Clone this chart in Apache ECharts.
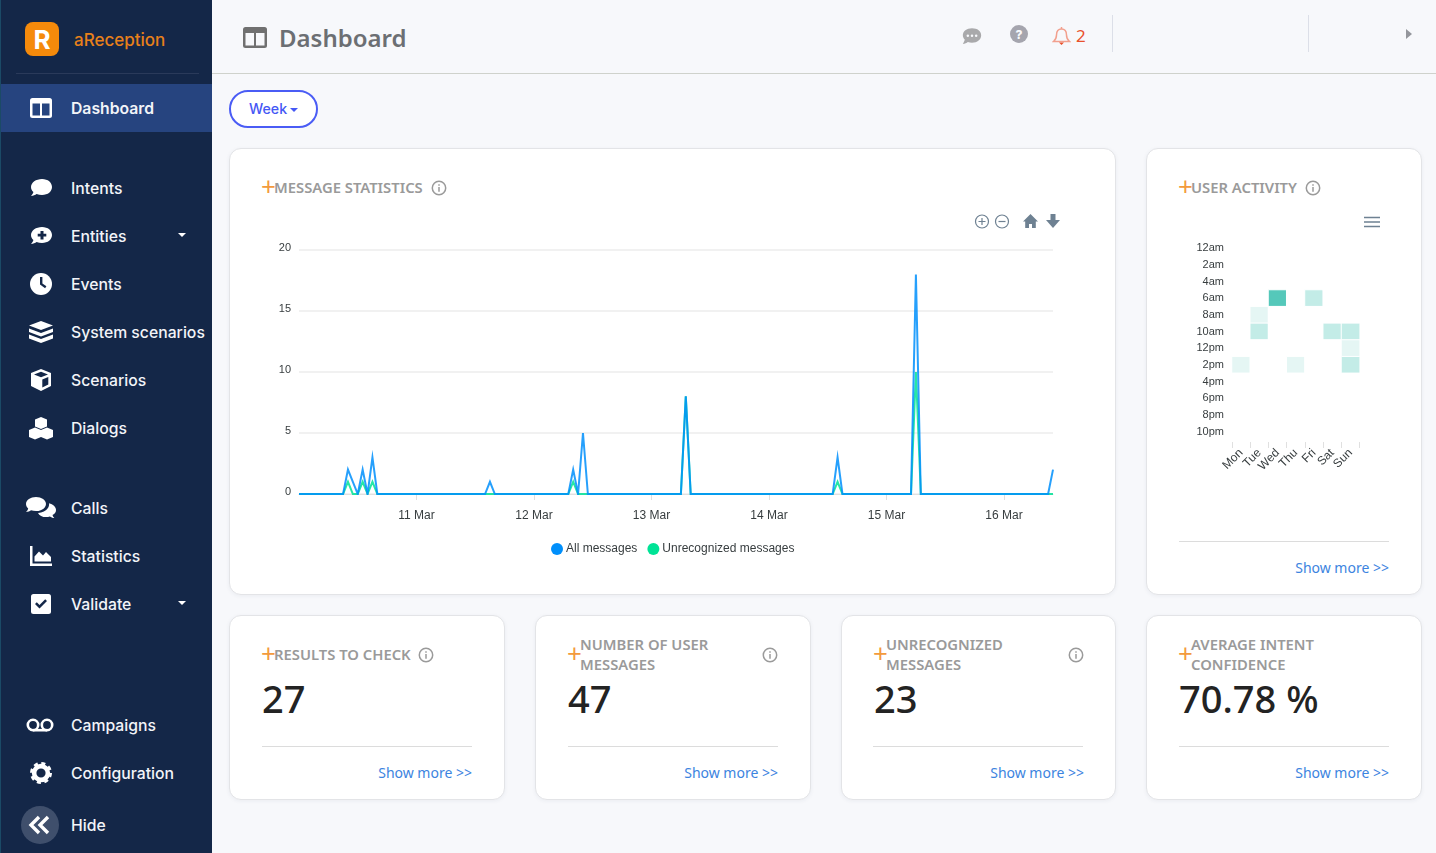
<!DOCTYPE html>
<html>
<head>
<meta charset="utf-8">
<title>Dashboard</title>
<script src="https://cdn.jsdelivr.net/npm/echarts@6/dist/echarts.min.js"></script>
<style>
  html, body { margin: 0; padding: 0; width: 1436px; height: 853px; overflow: hidden; background: #f7f8fb; font-family: "Noto Sans", sans-serif; }
  .abs { position: absolute; }
  #side { position: absolute; left: 0; top: 0; width: 212px; height: 853px; background: #142748; border-left: 1px solid #1b4a66; box-sizing: border-box; }
  .nav { position: absolute; left: 70px; margin-top: 1px; color: #f2f4f8; font: 500 15.75px/20px Inter, sans-serif; white-space: nowrap; }
  .ico { position: absolute; left: 28px; width: 24px; height: 24px; fill: #fff; }
  .caret { position: absolute; left: 177px; width: 0; height: 0; border-left: 4px solid transparent; border-right: 4px solid transparent; border-top: 4px solid #fff; }
  .card { position: absolute; background: #fff; border: 1px solid #e3e4e7; border-radius: 12px; box-sizing: border-box; box-shadow: 0 1px 4px rgba(40,50,80,.06); }
  .ttl { position: absolute; margin-top: -1px; color: #9a9a9a; font: 600 14.8px/20px "Noto Sans", sans-serif; white-space: nowrap; }
  .plus { position: absolute; color: #f39a3c; font: 400 26px/20px "Noto Sans", sans-serif; }
  .info { position: absolute; width: 16px; height: 16px; }
  .big { position: absolute; margin-top: -2px; color: #232323; font: 500 38px/44px "Noto Sans", sans-serif; white-space: nowrap; }
  .rule { position: absolute; height: 1px; width: 210px; background: #dcdcdc; }
  .more { position: absolute; color: #3c84e0; font: 400 14px/18px "Noto Sans", sans-serif; white-space: nowrap; }
</style>
</head>
<body>
<div id="side">
  <svg class="abs" style="left:24px;top:22px" width="34" height="34" viewBox="0 0 34 34"><rect width="34" height="34" rx="8" fill="#f58a0b"/><text x="17" y="26.500" text-anchor="middle" fill="#fff" font-family="Inter" font-weight="700" font-size="26">R</text></svg>
  <div class="abs" style="left:73px;top:29px;color:#e8801a;font:500 17px/22px Inter,sans-serif">aReception</div>
  <div class="abs" style="left:15px;top:73px;width:183px;height:1px;background:#2a3a5a"></div>
  <div class="abs" style="left:0;top:84px;width:211px;height:48px;background:#26447f"></div>

  <svg class="ico" style="top:96px" viewBox="0 0 24 24"><rect x="1" y="2" width="22" height="20" rx="2.500"/><rect x="3.500" y="7.500" width="7.500" height="12" fill="#26447f"/><rect x="13" y="7.500" width="7.500" height="12" fill="#26447f"/></svg>
  <div class="nav" style="top:98px;font-weight:600">Dashboard</div>

  <svg class="ico" style="top:176px" viewBox="0 0 24 24"><path d="M13 3C7 3 2 6.600 2 11c0 1.900.9 3.600 2.400 5-.4 1.700-1.600 3.200-2.400 4 2.200 0 4.200-.9 5.600-1.900 1.700.6 3.500.9 5.400.9 6 0 10-3.600 10-8s-4-8-10-8z"/></svg>
  <div class="nav" style="top:178px">Intents</div>

  <svg class="ico" style="top:224px" viewBox="0 0 24 24"><path d="M13 3C7 3 2 6.600 2 11c0 1.900.9 3.600 2.400 5-.4 1.700-1.600 3.200-2.400 4 2.200 0 4.200-.9 5.600-1.900 1.700.6 3.500.9 5.400.9 6 0 10-3.600 10-8s-4-8-10-8z"/><path d="M11.500 7h3v2.800h2.800v2.800h-2.800v2.800h-3v-2.800H8.700V9.800h2.800z" fill="#142748"/></svg>
  <div class="nav" style="top:226px">Entities</div>
  <div class="caret" style="top:233px"></div>

  <svg class="ico" style="top:272px" viewBox="0 0 24 24"><circle cx="12" cy="12" r="11"/><path d="M11 5h2.400v6.400l4 2.900-1.300 1.900-5.100-3.700z" fill="#142748"/></svg>
  <div class="nav" style="top:274px">Events</div>

  <svg class="ico" style="top:320px" viewBox="0 0 24 24"><path d="M12 1l12 4.500-12 4.500L0 5.500z"/><path d="M0 8.500l12 4.500 12-4.500v3.500l-12 4.500-12-4.500z"/><path d="M0 14.500l12 4.500 12-4.500v4l-12 4.500-12-4.500z"/></svg>
  <div class="nav" style="top:322px">System scenarios</div>

  <svg class="ico" style="top:368px" viewBox="0 0 24 24"><path d="M12 1l10 4v13l-10 5-10-5V5z"/><path d="M5 6.500l7 2.800 7-2.800-7-2.700zM13.300 11.500v8l6-3v-7.400z" fill="#142748"/></svg>
  <div class="nav" style="top:370px">Scenarios</div>

  <svg class="ico" style="top:416px" viewBox="0 0 24 24"><path d="M12 1l6 2.400v7l-6 2.600-6-2.600v-7z"/><path d="M6 11.500l6 2.400v7L6 23.500 0 20.900v-7z"/><path d="M18 11.500l6 2.400v7l-6 2.600-6-2.600v-7z"/></svg>
  <div class="nav" style="top:418px">Dialogs</div>

  <svg class="ico" style="top:496px;left:25px;width:30px" viewBox="0 0 30 24"><path d="M10 1C4.500 1 0 4.200 0 8c0 1.700.9 3.200 2.200 4.400-.3 1.300-1.200 2.600-2.200 3.600 2 0 3.700-.8 5-1.700 1.500.5 3.200.8 5 .8 5.500 0 10-3.200 10-7.100S15.500 1 10 1z"/><path d="M30 14c0-3.300-3-6-7-6.800.1.300.1.600.1 1 0 5-5.300 8.400-11.100 8.700 1.200 2.500 4.500 4.200 8 4.200 1.400 0 2.700-.2 3.900-.6 1.100.8 2.700 1.500 4.500 1.500-.8-.8-1.600-2-1.900-3.100C29.100 17.700 30 16 30 14z"/></svg>
  <div class="nav" style="top:498px">Calls</div>

  <svg class="ico" style="top:544px" viewBox="0 0 24 24"><path d="M1 2h2.500v17.500H23V22H1z"/><path d="M5.500 17.500v-5l4.500-5 4 4 3-3.500 5 5v4.500z"/></svg>
  <div class="nav" style="top:546px">Statistics</div>

  <svg class="ico" style="top:592px" viewBox="0 0 24 24"><rect x="2" y="2" width="20" height="20" rx="2.500"/><path d="M6 12l1.800-1.800 2.700 2.700 5.700-5.700L18 9l-7.500 7.500z" fill="#142748"/></svg>
  <div class="nav" style="top:594px">Validate</div>
  <div class="caret" style="top:601px"></div>

  <svg class="ico" style="top:713px;left:25px;width:28px" viewBox="0 0 28 24"><circle cx="7" cy="12" r="5.200" fill="none" stroke="#fff" stroke-width="2.600"/><circle cx="21" cy="12" r="5.200" fill="none" stroke="#fff" stroke-width="2.600"/><rect x="7" y="15.900" width="14" height="2.600"/></svg>
  <div class="nav" style="top:715px">Campaigns</div>

  <svg class="ico" style="top:762px;left:29px;width:22px;height:22px" viewBox="0 0 24 24"><circle cx="12" cy="12" r="7.500" fill="none" stroke="#fff" stroke-width="5"/><circle cx="12" cy="12" r="10.500" fill="none" stroke="#fff" stroke-width="3" stroke-dasharray="4.400 3.850"/></svg>
  <div class="nav" style="top:763px">Configuration</div>

  <div class="abs" style="left:20px;top:806px;width:38px;height:38px;border-radius:50%;background:#3f4f6c"></div>
  <svg class="ico" style="top:813px;left:27px" viewBox="0 0 24 24"><path d="M11 4L3 12l8 8M20 4l-8 8 8 8" fill="none" stroke="#fff" stroke-width="3.400"/></svg>
  <div class="nav" style="top:815px">Hide</div>
</div>

<!-- header -->
<div class="abs" style="left:212px;top:73px;width:1224px;height:1px;background:#cfd2cc"></div>
<svg class="abs" style="left:243px;top:27px" width="24" height="22" viewBox="0 0 24 22"><rect width="24" height="21" rx="2.500" fill="#707070"/><rect x="2.500" y="6" width="8.500" height="12.500" fill="#f7f8fb"/><rect x="13" y="6" width="8.500" height="12.500" fill="#f7f8fb"/></svg>
<div class="abs" style="left:279px;top:21px;color:#6c6f73;font:600 24px/33px 'Noto Sans',sans-serif">Dashboard</div>
<svg class="abs" style="left:962px;top:27px" width="20" height="19" viewBox="0 0 24 22"><path d="M12 1C5.500 1 1 4.800 1 9.500c0 2 .9 3.800 2.300 5.200-.3 1.900-1.400 3.900-2.300 5.300 2.400-.1 4.600-1.100 6-2.300 1.500.5 3.200.8 5 .8 6.500 0 11-3.800 11-9S18.500 1 12 1z" fill="#a9a9ab"/><circle cx="7" cy="10" r="1.500" fill="#f7f8fb"/><circle cx="12" cy="10" r="1.500" fill="#f7f8fb"/><circle cx="17" cy="10" r="1.500" fill="#f7f8fb"/></svg>
<svg class="abs" style="left:1010px;top:25px" width="18" height="18" viewBox="0 0 18 18"><circle cx="9" cy="9" r="9" fill="#a5a5ae"/><text x="9" y="13.500" text-anchor="middle" fill="#f7f8fb" font-family="Inter" font-weight="800" font-size="12">?</text></svg>
<svg class="abs" style="left:1052px;top:26px" width="19" height="20" viewBox="0 0 19 20"><path d="M9.500 3C6 3 4.500 5.500 4.500 9c0 3-1.200 5-3 6.500h16c-1.800-1.500-3-3.500-3-6.500 0-3.500-1.500-6-5-6z" fill="none" stroke="#f2a08e" stroke-width="1.500"/><path d="M9.500 1v2" stroke="#f2a08e" stroke-width="1.500"/><path d="M7 16.500h5l-2.500 2.500z" fill="#e8502a"/></svg>
<div class="abs" style="left:1076px;top:25px;color:#e9512c;font:400 17px/22px 'Noto Sans',sans-serif">2</div>
<div class="abs" style="left:1112px;top:15px;width:1px;height:37px;background:#dcdfe8"></div>
<div class="abs" style="left:1308px;top:15px;width:1px;height:37px;background:#dcdfe8"></div>
<div class="abs" style="left:1406px;top:29px;width:0;height:0;border-top:5px solid transparent;border-bottom:5px solid transparent;border-left:6px solid #94969c"></div>

<!-- week button -->
<div class="abs" style="left:229px;top:90px;width:89px;height:38px;box-sizing:border-box;border:2px solid #4a5cf5;border-radius:19px;background:#fff"></div>
<div class="abs" style="left:249px;top:99px;color:#4558f5;font:500 14.2px/20px Inter,sans-serif">Week</div>
<div class="abs" style="left:290px;top:108px;width:0;height:0;border-left:4px solid transparent;border-right:4px solid transparent;border-top:4px solid #4558f5"></div>

<!-- cards -->
<div class="card" style="left:229px;top:148px;width:887px;height:447px"></div>
<div class="card" style="left:1146px;top:148px;width:276px;height:447px"></div>
<div class="card" style="left:229px;top:615px;width:276px;height:185px"></div>
<div class="card" style="left:535px;top:615px;width:276px;height:185px"></div>
<div class="card" style="left:841px;top:615px;width:275px;height:185px"></div>
<div class="card" style="left:1146px;top:615px;width:276px;height:185px"></div>

<svg width="0" height="0" style="position:absolute"><symbol id="inf" viewBox="0 0 16 16"><circle cx="8" cy="8" r="6.700" fill="none" stroke="#9a9a9a" stroke-width="1.500"/><path d="M8 4.200v1.600M8 7v4.800" stroke="#9a9a9a" stroke-width="1.500"/></symbol></svg>

<div class="plus" style="left:261px;top:176px">+</div>
<div class="ttl" style="left:274px;top:178px">MESSAGE STATISTICS</div>
<svg class="info" style="left:431px;top:180px"><use href="#inf"/></svg>

<div class="plus" style="left:1178px;top:176px">+</div>
<div class="ttl" style="left:1191px;top:178px">USER ACTIVITY</div>
<svg class="info" style="left:1305px;top:180px"><use href="#inf"/></svg>

<!-- line chart toolbar -->
<svg class="abs" style="left:974px;top:213px" width="90" height="17" viewBox="0 0 90 17">
  <g fill="none" stroke="#6e8192" stroke-width="1.200"><circle cx="8" cy="8.500" r="6.500"/><path d="M4.500 8.500h7M8 5v7"/><circle cx="28" cy="8.500" r="6.500"/><path d="M24.500 8.500h7"/></g>
  <path d="M56.500 1L49 8.500h2.200V15h3.800v-4h3v4h3.800V8.500H64z" fill="#6e8192"/>
  <path d="M76.500 1h5v6H86l-7 8-7-8h4.500z" fill="#6e8192"/>
</svg>
<svg class="abs" style="left:1364px;top:216px" width="16" height="12" viewBox="0 0 16 12"><path d="M0 1.500h16M0 6h16M0 10.500h16" stroke="#6e8192" stroke-width="1.600"/></svg>

<div id="lineChart" class="abs" style="left:231px;top:235px;width:883px;height:330px"></div>
<div id="heatChart" class="abs" style="left:1148px;top:235px;width:272px;height:290px"></div>

<div class="rule" style="left:1179px;top:541px"></div>
<div class="more" style="right:47px;top:559px">Show more &gt;&gt;</div>

<div class="plus" style="left:261px;top:643px">+</div>
<div class="ttl" style="left:274px;top:645px">RESULTS TO CHECK</div>
<svg class="info" style="left:418px;top:647px"><use href="#inf"/></svg>
<div class="big" style="left:262px;top:678px">27</div>
<div class="rule" style="left:262px;top:746px"></div>
<div class="more" style="right:964px;top:764px">Show more &gt;&gt;</div>

<div class="plus" style="left:567px;top:643px">+</div>
<div class="ttl" style="left:580px;top:635px">NUMBER OF USER<br>MESSAGES</div>
<svg class="info" style="left:762px;top:647px"><use href="#inf"/></svg>
<div class="big" style="left:568px;top:678px">47</div>
<div class="rule" style="left:568px;top:746px"></div>
<div class="more" style="right:658px;top:764px">Show more &gt;&gt;</div>

<div class="plus" style="left:873px;top:643px">+</div>
<div class="ttl" style="left:886px;top:635px">UNRECOGNIZED<br>MESSAGES</div>
<svg class="info" style="left:1068px;top:647px"><use href="#inf"/></svg>
<div class="big" style="left:874px;top:678px">23</div>
<div class="rule" style="left:873px;top:746px"></div>
<div class="more" style="right:352px;top:764px">Show more &gt;&gt;</div>

<div class="plus" style="left:1178px;top:643px">+</div>
<div class="ttl" style="left:1191px;top:635px">AVERAGE INTENT<br>CONFIDENCE</div>
<div class="big" style="left:1179px;top:678px">70.78 %</div>
<div class="rule" style="left:1179px;top:746px"></div>
<div class="more" style="right:47px;top:764px">Show more &gt;&gt;</div>

<script>
// hourly counts, one row per day, 10 Mar 00:00 to 16 Mar 10:00
const days = ["10 Mar", "11 Mar", "12 Mar", "13 Mar", "14 Mar", "15 Mar", "16 Mar"];
const allMessages = [
  0,0,0,0,0,0,0,0,0,0,2,1,0,2,0,3,0,0,0,0,0,0,0,0,
  0,0,0,0,0,0,0,0,0,0,0,0,0,0,0,1,0,0,0,0,0,0,0,0,
  0,0,0,0,0,0,0,0,2,0,5,0,0,0,0,0,0,0,0,0,0,0,0,0,
  0,0,0,0,0,0,0,8,0,0,0,0,0,0,0,0,0,0,0,0,0,0,0,0,
  0,0,0,0,0,0,0,0,0,0,0,0,0,0,3,0,0,0,0,0,0,0,0,0,
  0,0,0,0,0,0,18,0,0,0,0,0,0,0,0,0,0,0,0,0,0,0,0,0,
  0,0,0,0,0,0,0,0,0,0,2,
];
const unrecognized = [
  0,0,0,0,0,0,0,0,0,0,1,0,0,1,0,1,0,0,0,0,0,0,0,0,
  0,0,0,0,0,0,0,0,0,0,0,0,0,0,0,0,0,0,0,0,0,0,0,0,
  0,0,0,0,0,0,0,0,1,0,0,0,0,0,0,0,0,0,0,0,0,0,0,0,
  0,0,0,0,0,0,0,8,0,0,0,0,0,0,0,0,0,0,0,0,0,0,0,0,
  0,0,0,0,0,0,0,0,0,0,0,0,0,0,1,0,0,0,0,0,0,0,0,0,
  0,0,0,0,0,0,10,0,0,0,0,0,0,0,0,0,0,0,0,0,0,0,0,0,
  0,0,0,0,0,0,0,0,0,0,0,
];

// heatmap columns, 12 rows from 12am to 10pm
const weekdays = ["Mon", "Tue", "Wed", "Thu", "Fri", "Sat", "Sun"];
const hourSlots = ["12am", "2am", "4am", "6am", "8am", "10am", "12pm", "2pm", "4pm", "6pm", "8pm", "10pm"];
const mon = [0,0,0,0,0,0,0,1,0,0,0,0];
const tue = [0,0,0,0,1,2,0,0,0,0,0,0];
const wed = [0,0,0,5,0,0,0,0,0,0,0,0];
const thu = [0,0,0,0,0,0,0,1,0,0,0,0];
const fri = [0,0,0,2,0,0,0,0,0,0,0,0];
const sat = [0,0,0,0,0,2,0,0,0,0,0,0];
const sun = [0,0,0,0,0,2,1,2,0,0,0,0];

const labelColor = "#373d3f";
const sansFont = "'Liberation Sans', Arial, sans-serif";

const hourLabels = allMessages.map((v, i) => days[Math.floor(i / 24)] + " " + (i % 24) + ":00");
const isDayStart = (i) => i > 0 && i % 24 === 0;

const lineChart = echarts.init(document.getElementById("lineChart"));
lineChart.setOption({
  animation: false,
  textStyle: { fontFamily: sansFont },
  tooltip: { trigger: "axis" },
  legend: {
    left: 315, top: 303, icon: "circle", itemWidth: 12, itemHeight: 12, itemGap: 10,
    textStyle: { fontSize: 12, color: labelColor, fontFamily: sansFont, padding: [0, 0, 0, -2] },
    data: ["All messages", "Unrecognized messages"],
  },
  grid: { left: 68, top: 15, width: 754, height: 244 },
  xAxis: {
    type: "category", boundaryGap: false, data: hourLabels,
    axisLine: { lineStyle: { color: "#e0e0e0" } },
    axisTick: { length: 6, interval: isDayStart, lineStyle: { color: "#e0e0e0" } },
    axisLabel: { interval: isDayStart, margin: 16, fontSize: 12, color: labelColor, formatter: (v) => v.slice(0, 6) },
  },
  yAxis: {
    type: "value", min: 0, max: 20, interval: 5,
    axisLine: { show: false }, axisTick: { show: false },
    axisLabel: { margin: 8, fontSize: 11, color: labelColor, verticalAlign: "bottom", lineHeight: 4 },
    splitLine: { lineStyle: { color: "#ececec", width: 1.500 } },
  },
  series: [
    { name: "All messages", type: "line", z: 3, data: allMessages, showSymbol: false, color: "#008ffb",
      lineStyle: { width: 2, opacity: 0.85, join: "miter" } },
    { name: "Unrecognized messages", type: "line", z: 2, data: unrecognized, showSymbol: false, color: "#00e396",
      lineStyle: { width: 2, opacity: 0.85, join: "miter" } },
  ],
});

const columns = [mon, tue, wed, thu, fri, sat, sun];
const heatData = [];
columns.forEach((col, x) => col.forEach((v, y) => heatData.push([x, y, v])));

const heatChart = echarts.init(document.getElementById("heatChart"));
heatChart.setOption({
  animation: false,
  textStyle: { fontFamily: sansFont },
  grid: { left: 84, top: 5, width: 127.700, height: 200 },
  xAxis: {
    type: "category", data: weekdays, offset: 2,
    axisLine: { show: false },
    axisTick: { show: true, length: 6, lineStyle: { color: "#e0e0e0" } },
    axisLabel: { rotate: 45, margin: 9, fontSize: 12, color: labelColor, interval: 0 },
    splitLine: { show: false },
  },
  yAxis: {
    type: "category", inverse: true, data: hourSlots,
    axisLine: { show: false }, axisTick: { show: false },
    axisLabel: { margin: 8, fontSize: 11, color: labelColor, interval: 0 },
    splitLine: { show: false },
  },
  visualMap: {
    show: false, type: "continuous", min: 0, max: 5, dimension: 2,
    inRange: { color: ["#ffffff", "#e5f6f4", "#c3ece7", "#9fe0d8", "#7ad4c9", "#55c8ba"] },
  },
  series: [{
    type: "heatmap", data: heatData,
    itemStyle: { borderColor: "#fff", borderWidth: 1 },
    emphasis: { disabled: true },
  }],
});
</script>
</body>
</html>
